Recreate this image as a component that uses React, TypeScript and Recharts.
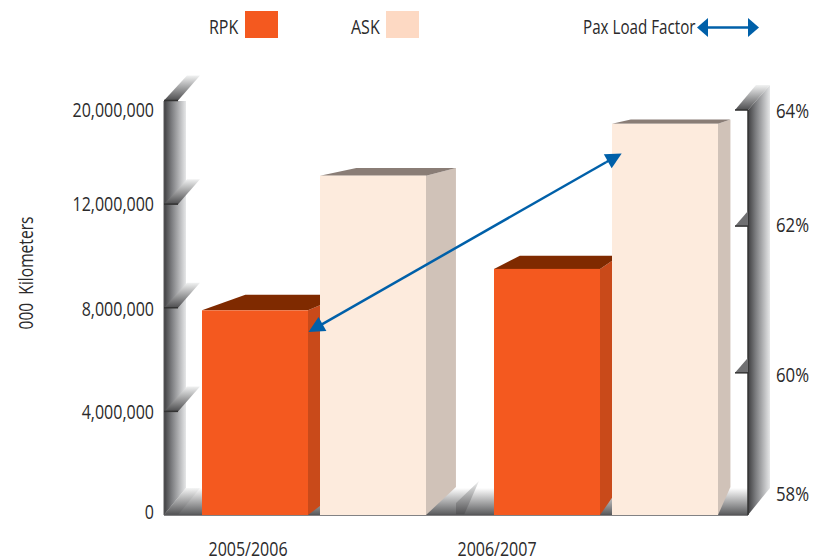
import { Bar, ComposedChart, Line, XAxis, YAxis } from 'recharts';

const periods = ['2005/2006', '2006/2007'];
const rpkValues = [7900000, 9500000];
const askValues = [14200000, 18200000];
const loadFactorValues = [60.6, 63.1];

const kmTicks = [0, 4000000, 8000000, 12000000, 20000000];
const kmTickFractions = [0, 0.25, 0.5, 0.75, 1];
const pctTicks = [58, 60, 62, 64];
const pctStops = [58, 60, 62, 64, 64.2];
const pctStopFractions = [0, 0.343, 0.697, 0.977, 1];

// nudges for labels that do not sit on their own tick
const kmLabelNudge = [-4, 0, 1, -1, 9];
const pctLabelNudge = [-22, 1, -2, 0];
const periodLabelShift = [-66, -109];

const data = periods.map((period, i) => ({
  period,
  rpk: rpkValues[i],
  ask: askValues[i],
  loadFactor: loadFactorValues[i],
}));

const FONT = '"Open Sans", sans-serif';
const INK = '#2b2a2b';
const BLUE = '#0060a9';
const ORANGE = '#f4591f';

// both axes are uneven, so a stepped scale stands in for d3's linear one
function steppedScale(stops: number[], fractions: number[]) {
  let dom = [stops[0], stops[stops.length - 1]];
  let rng = [0, 1];
  const scale: any = (v: number) => {
    let i = 0;
    while (i < stops.length - 2 && v > stops[i + 1]) i++;
    const t = (v - stops[i]) / (stops[i + 1] - stops[i]);
    const f = fractions[i] + t * (fractions[i + 1] - fractions[i]);
    return rng[0] + f * (rng[1] - rng[0]);
  };
  scale.domain = (d?: number[]) => {
    if (!d) return dom;
    dom = d;
    return scale;
  };
  scale.range = (r?: number[]) => {
    if (!r) return rng;
    rng = r;
    return scale;
  };
  scale.ticks = () => stops;
  scale.copy = () => steppedScale(stops, fractions).domain(dom).range(rng);
  return scale;
}

// back face of every block shrinks toward one vanishing point
const VP = { x: 925, y: 50 };
const DEPTH = 0.94;
const backX = (x: number) => VP.x + DEPTH * (x - VP.x);
const backY = (y: number) => VP.y + DEPTH * (y - VP.y);

const poly = (pts: number[][]) => pts.map((p) => p.join(',')).join(' ');

function blockShape(front: string, top: string, side: string) {
  return function Block(props: any) {
    const { x, y, width, height } = props;
    const r = x + width;
    const b = y + height;
    return (
      <g>
        <polygon
          fill={side}
          points={poly([[r, y], [backX(r), backY(y)], [backX(r), backY(b)], [r, b]])}
        />
        <polygon
          fill={top}
          points={poly([[x, y], [backX(x), backY(y)], [backX(r), backY(y)], [r, y]])}
        />
        <rect x={x} y={y} width={width} height={height} fill={front} />
      </g>
    );
  };
}

// no condensed face is installed, so the text is squeezed horizontally
function label(
  x: number,
  y: number,
  text: string,
  anchor: 'start' | 'end' | 'middle' = 'start',
  squeeze = 0.8,
) {
  return (
    <text
      transform={`translate(${x},${y}) scale(${squeeze},1)`}
      textAnchor={anchor}
      dominantBaseline="central"
      fontFamily={FONT}
      fontSize={20}
      fill={INK}
      style={{ whiteSpace: 'pre' }}
    >
      {text}
    </text>
  );
}

function KmTick({ y, payload, index }: any) {
  return (
    <g>
      {payload.value > 0 && (
        <>
          <polygon fill="url(#tickFade)" points={poly([[164, y], [178, y], [200, y - 25], [187, y - 25]])} />
          <line x1={164} x2={178} y1={y} y2={y} stroke="#333" strokeWidth={1.5} />
        </>
      )}
      {label(154, y + kmLabelNudge[index], payload.value.toLocaleString('en-US'), 'end')}
    </g>
  );
}

function PctTick({ y, payload, index }: any) {
  const isTop = payload.value === 64;
  return (
    <g>
      {isTop ? (
        <polygon fill="url(#tickFade)" points={poly([[735, y], [748, y], [770, y - 25], [756, y - 25]])} />
      ) : (
        payload.value > 58 && (
          <polygon fill="#707072" points={poly([[735, y], [748, y], [748, y - 15]])} />
        )
      )}
      {payload.value > 58 && <line x1={735} x2={748} y1={y} y2={y} stroke="#333" strokeWidth={1.5} />}
      {label(776, y + pctLabelNudge[index], `${payload.value}%`, 'start', 0.84)}
    </g>
  );
}

function PeriodTick({ x, payload, index }: any) {
  return label(x + periodLabelShift[index], 548, payload.value, 'middle');
}

// the load factor line runs past its points and ends in an arrowhead each way
function ArrowEnd({ cx, cy, index }: any) {
  const angle = index === 0 ? 150.6 : -29.4;
  const reach = index === 0 ? 6.3 : 18;
  return (
    <g key={index} transform={`translate(${cx},${cy}) rotate(${angle})`}>
      <line x1={0} x2={reach - 6} y1={0} y2={0} stroke={BLUE} strokeWidth={2.5} />
      <polygon fill={BLUE} points={poly([[reach, 0], [reach - 16, -8], [reach - 16, 8]])} />
    </g>
  );
}

function Walls() {
  return (
    <g>
      <defs>
        <linearGradient id="sideWall" x1="0" x2="1" y1="0" y2="0">
          <stop offset="0" stopColor="#3f3f41" />
          <stop offset="0.35" stopColor="#7c7d80" />
          <stop offset="1" stopColor="#e6e7e8" />
        </linearGradient>
        <linearGradient id="floorFade" x1="0" x2="0" y1="0" y2="1">
          <stop offset="0" stopColor="#ffffff" />
          <stop offset="1" stopColor="#58595b" />
        </linearGradient>
        <linearGradient id="tickFade" x1="0" x2="0" y1="1" y2="0">
          <stop offset="0" stopColor="#4d4d4f" />
          <stop offset="1" stopColor="#f1f2f2" />
        </linearGradient>
      </defs>
      <polygon fill="url(#floorFade)" points={poly([[164, 515], [186, 488], [748, 488], [748, 515]])} />
      <polygon fill="url(#sideWall)" points={poly([[164, 101], [186, 101], [186, 488], [164, 515]])} />
      <polygon fill="url(#tickFade)" opacity={0.75} points={poly([[164, 515], [178, 515], [200, 488], [186, 488]])} />
      <polygon fill="url(#sideWall)" points={poly([[748, 110], [770, 85], [770, 488], [748, 515]])} />
      <polygon fill="url(#tickFade)" points={poly([[456, 515], [456, 503], [479, 481], [464, 515]])} />
      <line x1={164} x2={748} y1={515} y2={515} stroke="#58595b" strokeWidth={1.5} />
      <line x1={748} x2={748} y1={110} y2={515} stroke="#333" strokeWidth={1.5} />
      <line x1={164} x2={164} y1={101} y2={515} stroke="#58595b" strokeWidth={1} />
    </g>
  );
}

function KeyRow() {
  return (
    <g>
      {label(209, 26, 'RPK')}
      <rect x={245} y={11} width={33} height={27} fill={ORANGE} />
      {label(351, 26, 'ASK')}
      <rect x={386} y={11} width={33} height={27} fill="#fdd9c3" />
      {label(583, 26, 'Pax Load Factor', 'start', 0.76)}
      <line x1={705} x2={750} y1={27.5} y2={27.5} stroke={BLUE} strokeWidth={2.5} />
      <polygon fill={BLUE} points={poly([[697, 27.5], [708, 18], [708, 37]])} />
      <polygon fill={BLUE} points={poly([[759, 27.5], [748, 18], [748, 37]])} />
      <text
        transform="translate(25,273) rotate(-90) scale(0.78,1)"
        textAnchor="middle"
        dominantBaseline="central"
        fontFamily={FONT}
        fontSize={20}
        fill={INK}
        style={{ whiteSpace: 'pre' }}
      >
        {'000  Kilometers'}
      </text>
    </g>
  );
}

export default function App() {
  return (
    <div style={{ position: 'absolute', left: 0, top: 0, width: 813, height: 557, background: '#fff' }}>
      <ComposedChart
        width={813}
        height={557}
        data={data}
        barSize={106}
        barGap={12}
        barCategoryGap={0}
        margin={{ top: 100.5, right: 0, bottom: 0, left: 0 }}
      >
        <Walls />
        <KeyRow />
        <XAxis
          dataKey="period"
          height={42}
          axisLine={false}
          tickLine={false}
          interval={0}
          tick={<PeriodTick />}
        />
        <YAxis
          yAxisId="km"
          width={168}
          type="number"
          domain={[0, 20000000]}
          ticks={kmTicks}
          interval={0}
          scale={steppedScale(kmTicks, kmTickFractions)}
          axisLine={false}
          tickLine={false}
          tick={<KmTick />}
        />
        <YAxis
          yAxisId="pct"
          orientation="right"
          width={61}
          type="number"
          domain={[58, 64.2]}
          ticks={pctTicks}
          interval={0}
          scale={steppedScale(pctStops, pctStopFractions)}
          axisLine={false}
          tickLine={false}
          tick={<PctTick />}
        />
        <Bar
          yAxisId="km"
          dataKey="rpk"
          fill={ORANGE}
          isAnimationActive={false}
          shape={blockShape(ORANGE, '#7f2a00', '#c94a1a')}
        />
        <Bar
          yAxisId="km"
          dataKey="ask"
          fill="#fdebdd"
          isAnimationActive={false}
          shape={blockShape('#fdebdd', '#8a7d76', '#d0c2b8')}
        />
        <Line
          yAxisId="pct"
          dataKey="loadFactor"
          stroke={BLUE}
          strokeWidth={2.5}
          isAnimationActive={false}
          dot={(p: any) => <ArrowEnd {...p} />}
        />
      </ComposedChart>
    </div>
  );
}
